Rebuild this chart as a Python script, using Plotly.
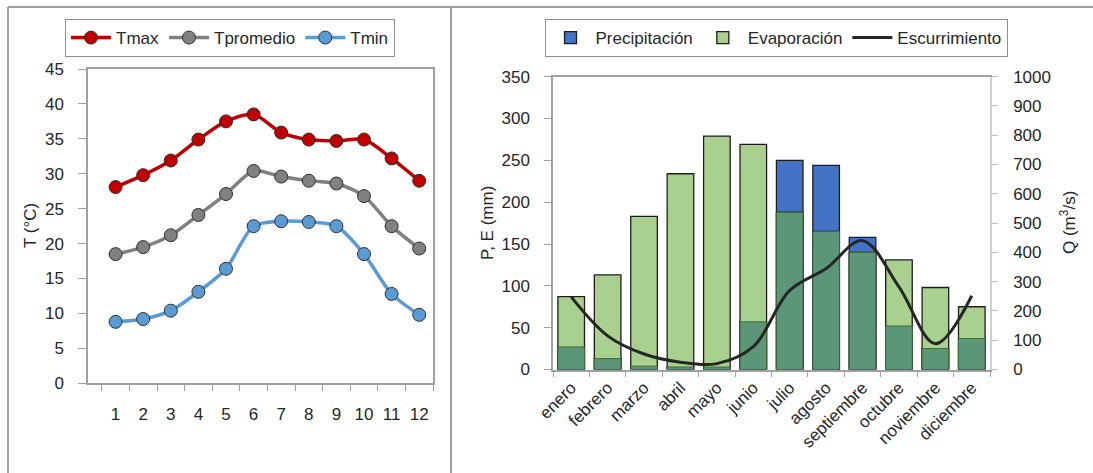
import plotly.graph_objects as go

# ---------------- data ----------------
meses_num = list(range(1, 13))
tmax = [28.1, 29.8, 31.9, 34.9, 37.5, 38.5, 35.9, 34.9, 34.7, 34.9, 32.2, 29.0]
tprom = [18.5, 19.5, 21.2, 24.1, 27.1, 30.4, 29.6, 29.0, 28.6, 26.8, 22.5, 19.3]
tmin = [8.8, 9.2, 10.4, 13.1, 16.4, 22.5, 23.2, 23.1, 22.5, 18.5, 12.8, 9.8]

meses = ["enero", "febrero", "marzo", "abril", "mayo", "junio", "julio",
         "agosto", "septiembre", "octubre", "noviembre", "diciembre"]
precip = [27, 13, 4, 3, 3, 57, 250, 244, 158, 52, 25, 37]
evap = [87, 113, 183, 234, 279, 269, 188, 165, 140, 131, 98, 75]
escurr = [248, 115, 53, 25, 20, 78, 270, 345, 440, 282, 88, 252]

# ---------------- layout helpers ----------------
W, H = 1093, 473
def px(x):
    return x / W
def py(y):
    return 1 - y / H

FONT = "Liberation Sans, Arial, sans-serif"
TXT = "#262626"
AX = "#A0A0A0"
FS = 17

overlap = [min(p, e) for p, e in zip(precip, evap)]

fig = go.Figure()

# ---- left: temperatures ----
for name, vals, col in [("Tmax", tmax, "#C00000"),
                        ("Tpromedio", tprom, "#808080"),
                        ("Tmin", tmin, "#5B9BD5")]:
    fig.add_trace(go.Scatter(
        x=meses_num, y=vals, name=name, mode="lines+markers",
        line=dict(color=col, width=3.5, shape="spline", smoothing=0.8),
        marker=dict(size=13, color=col, line=dict(color="#303030", width=1)),
        xaxis="x", yaxis="y", legend="legend"))

# ---- right: bars + line ----
fig.add_trace(go.Bar(
    x=meses, y=precip, name="Precipitación",
    marker=dict(color="#4472C4", line=dict(color="#1E1E1E", width=1.3)),
    xaxis="x2", yaxis="y2", legend="legend2"))
fig.add_trace(go.Bar(
    x=meses, y=evap, name="Evaporación",
    marker=dict(color="#A9D08E", line=dict(color="#1E1E1E", width=1.3)),
    xaxis="x2", yaxis="y2", legend="legend2"))
fig.add_trace(go.Bar(
    x=meses, y=overlap, name="P∩E", showlegend=False,
    marker=dict(color="#5B9679", line=dict(color="#3F6B35", width=1)),
    xaxis="x2", yaxis="y2", legend="legend2"))
fig.add_trace(go.Scatter(
    x=meses, y=escurr, name="Escurrimiento", mode="lines",
    line=dict(color="#262626", width=3, shape="spline", smoothing=1),
    xaxis="x2", yaxis="y3", legend="legend2"))

tickfont = dict(family=FONT, size=FS, color=TXT)

fig.update_layout(
    width=W, height=H,
    margin=dict(l=0, r=0, t=0, b=0, autoexpand=False),
    paper_bgcolor="white", plot_bgcolor="white",
    font=dict(family=FONT, size=FS, color=TXT),
    barmode="overlay", bargap=0.27,
    showlegend=True,
    xaxis=dict(domain=[px(88), px(433)], anchor="y", range=[0, 12.5], automargin=False,
               tickmode="array", tickvals=meses_num,
               ticks="outside", ticklen=15, tickcolor="rgba(0,0,0,0)",
               minor=dict(tickmode="array",
                          tickvals=[i + 0.5 for i in range(13)],
                          ticks="outside", ticklen=6, tickcolor=AX, tickwidth=1),
               showline=True, linecolor=AX, linewidth=1.5, mirror=True,
               showgrid=False, zeroline=False, tickfont=tickfont),
    yaxis=dict(domain=[py(383.3), py(69)], anchor="x", range=[0, 45], dtick=5,
               automargin=False,
               ticks="outside", ticklen=8, tickcolor=AX, ticklabelstandoff=11,
               showline=True, linecolor=AX, linewidth=1.5, mirror=True,
               showgrid=False, zeroline=False, tickfont=tickfont),
    xaxis2=dict(domain=[px(553), px(990)], anchor="y2", type="category", automargin=False,
                tickson="boundaries", ticks="outside", ticklen=6, tickcolor=AX,
                tickangle=-45, showline=True, linecolor=AX, linewidth=1.5,
                mirror=True, showgrid=False, zeroline=False, tickfont=tickfont),
    yaxis2=dict(domain=[py(369.5), py(76.7)], anchor="x2", range=[0, 350], dtick=50,
                automargin=False,
                ticks="outside", ticklen=7, tickcolor=AX, ticklabelstandoff=11,
                showline=True, linecolor=AX, linewidth=1.5,
                showgrid=False, zeroline=False, tickfont=tickfont),
    yaxis3=dict(overlaying="y2", side="right", anchor="x2", range=[0, 1000], dtick=100,
                automargin=False,
                ticks="outside", ticklen=6, tickcolor="#BFBFBF", ticklabelstandoff=12,
                showline=True, linecolor="#CFCFCF", linewidth=1.5,
                showgrid=False, zeroline=False, tickfont=tickfont),
    legend=dict(orientation="h", x=px(230), xanchor="center", y=py(19), yanchor="top",
                bordercolor="#909090", borderwidth=1, bgcolor="white", itemwidth=40,
                font=dict(family=FONT, size=FS, color=TXT), traceorder="normal"),
    legend2=dict(orientation="h", x=px(776), xanchor="center", y=py(19), yanchor="top",
                 bordercolor="#909090", borderwidth=1, bgcolor="white", itemwidth=40,
                 font=dict(family=FONT, size=FS, color=TXT), traceorder="normal"),
    annotations=[
        dict(text="T (°C)", x=px(30), y=py(226), xref="paper", yref="paper",
             xanchor="center", yanchor="middle",
             showarrow=False, textangle=-90, font=dict(family=FONT, size=FS, color=TXT)),
        dict(text="P, E (mm)", x=px(487), y=py(223), xref="paper", yref="paper",
             xanchor="center", yanchor="middle",
             showarrow=False, textangle=-90, font=dict(family=FONT, size=FS, color=TXT)),
        dict(text="Q (m<sup>3</sup>/s)", x=px(1068), y=py(223), xref="paper", yref="paper",
             xanchor="center", yanchor="middle",
             showarrow=False, textangle=-90, font=dict(family=FONT, size=FS, color=TXT)),
    ],
    shapes=[
        dict(type="line", xref="paper", yref="paper", x0=px(8), x1=1, y0=py(7), y1=py(7),
             line=dict(color="#A0A0A0", width=2)),
        dict(type="line", xref="paper", yref="paper", x0=px(8), x1=px(8), y0=py(7), y1=0,
             line=dict(color="#A0A0A0", width=2)),
        dict(type="line", xref="paper", yref="paper", x0=px(451), x1=px(451), y0=py(7), y1=0,
             line=dict(color="#A0A0A0", width=2)),
    ],
)

fig.write_html("out.html", config={"displayModeBar": False},
               post_script="document.body.style.margin='0';document.body.style.padding='0';")
